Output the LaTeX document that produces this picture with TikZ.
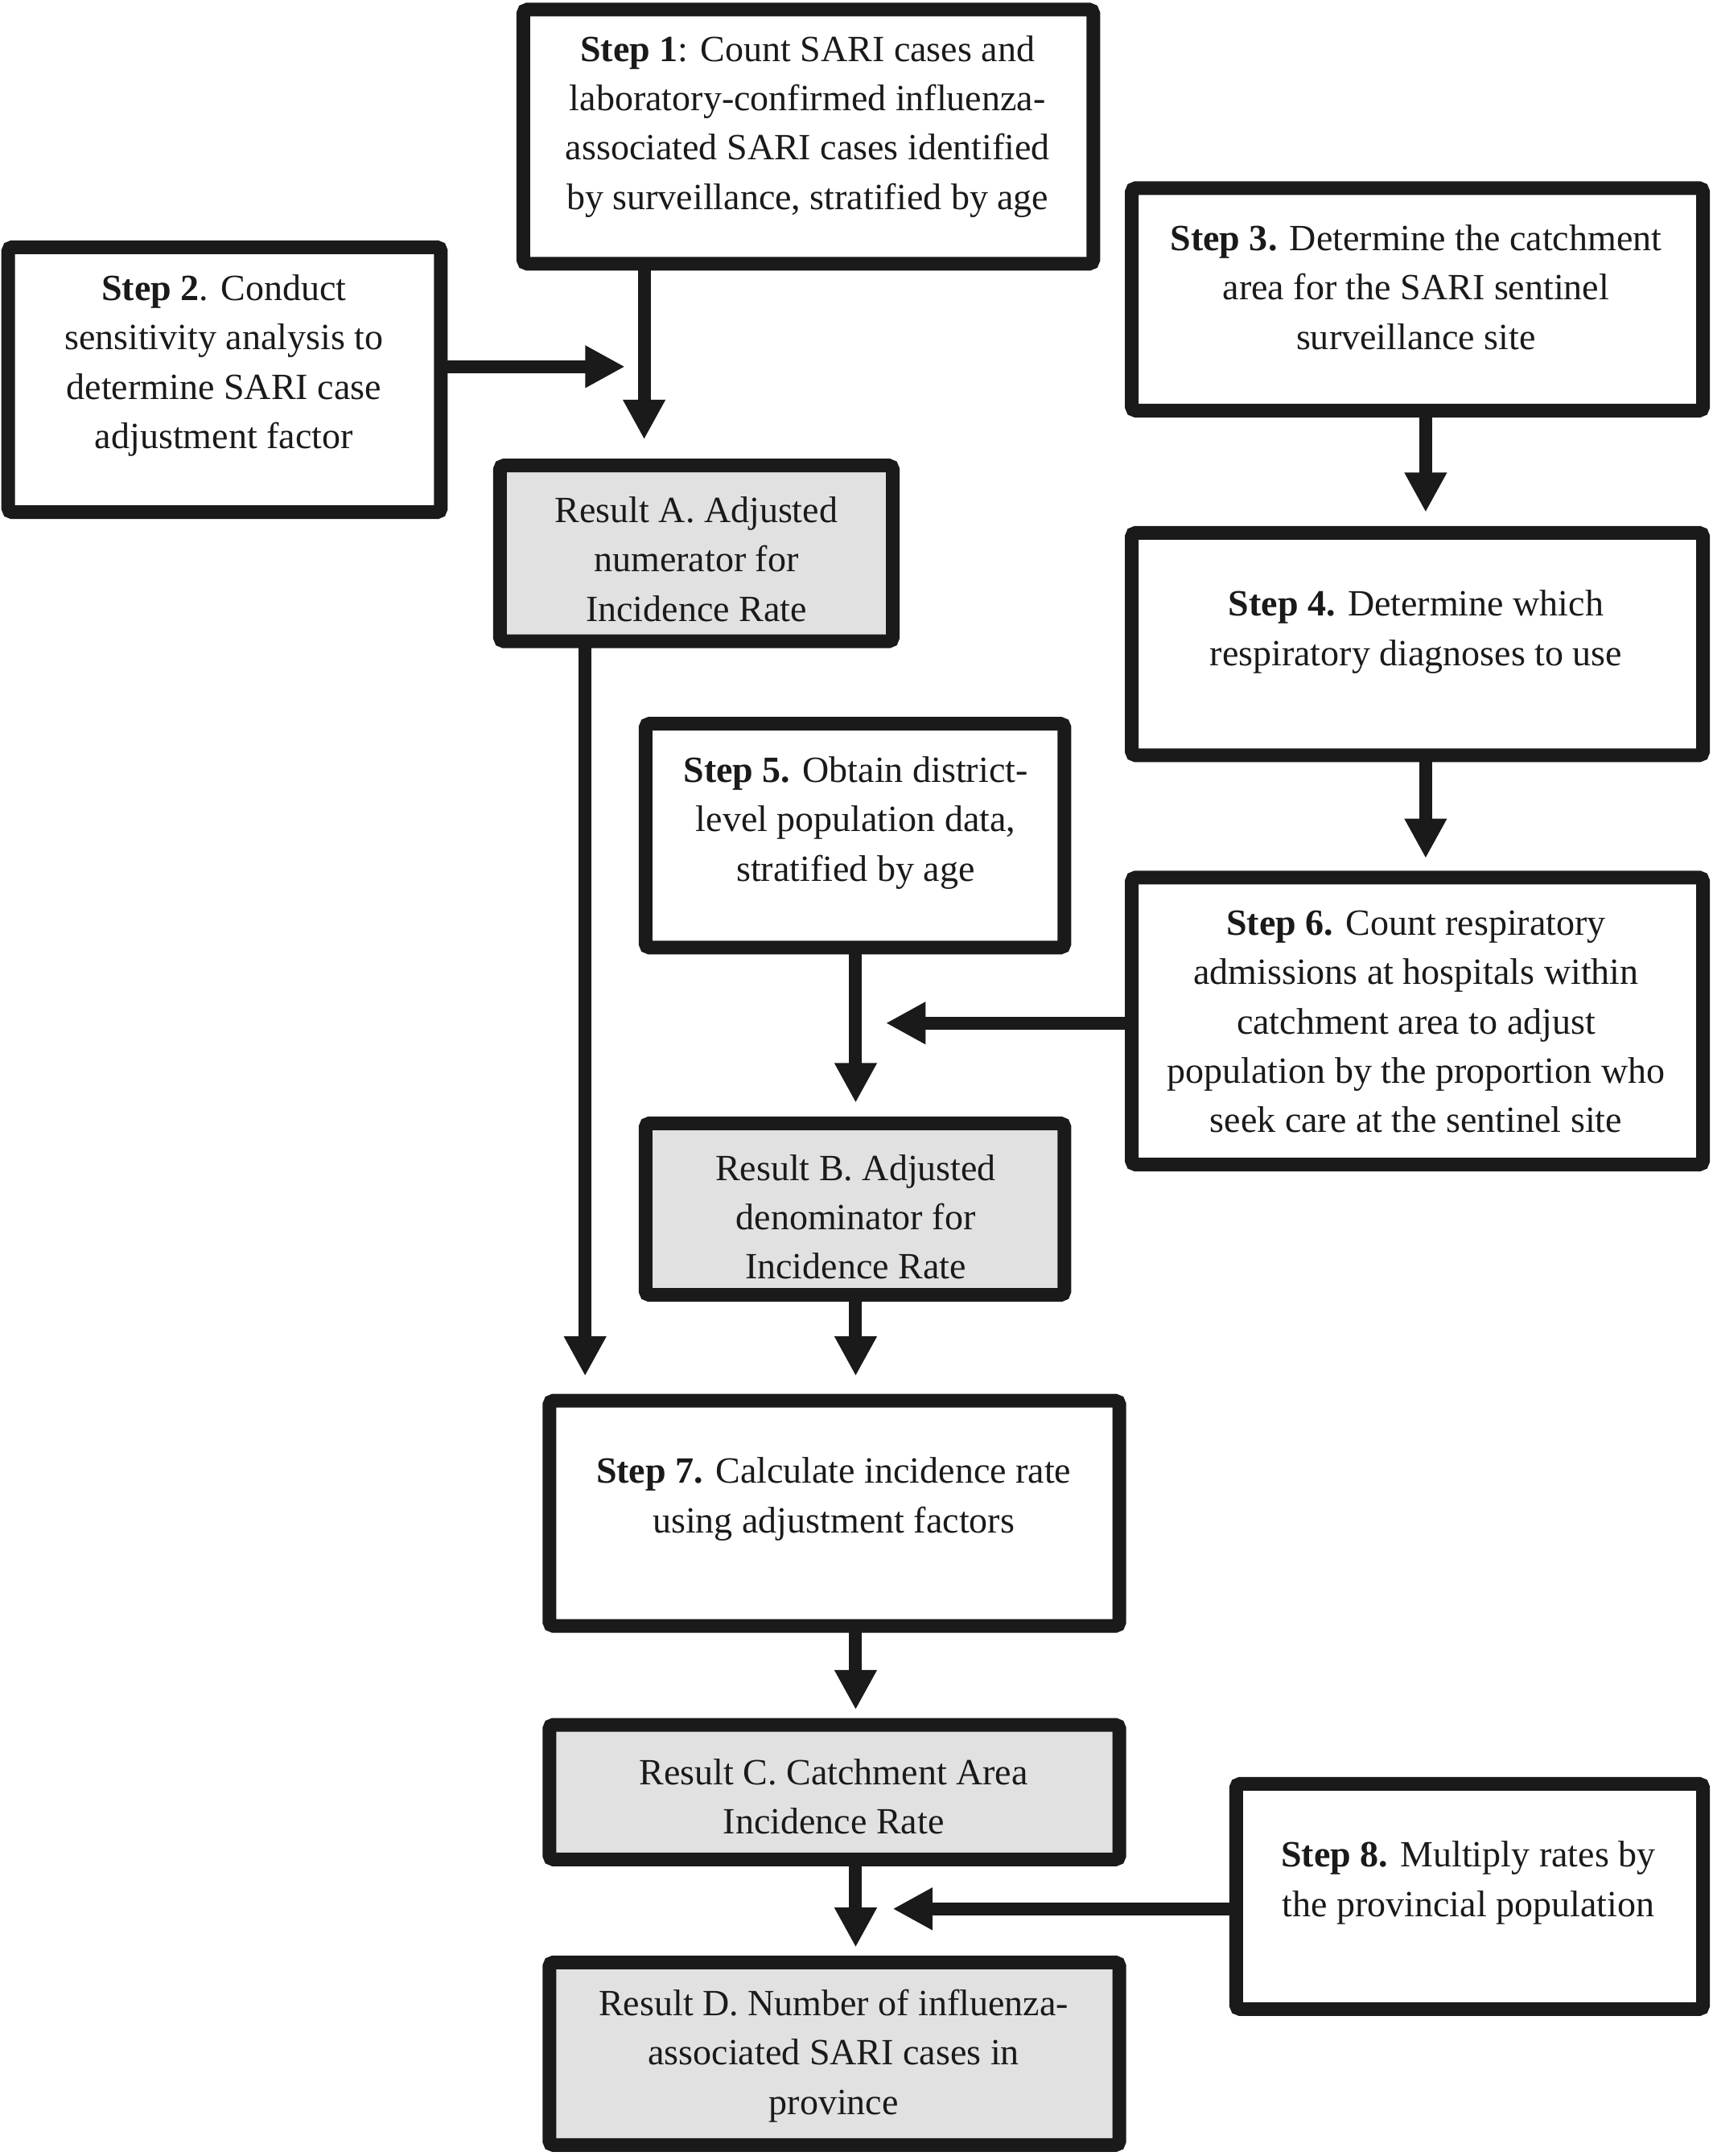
\documentclass[tikz,border=0pt]{standalone}
\usepackage{fontspec}
\setmainfont{Liberation Serif}
\usetikzlibrary{arrows.meta}
\definecolor{ink}{RGB}{26,26,26}
\definecolor{resfill}{RGB}{225,225,225}
\tikzset{
  boxst/.style={draw=ink, line width=5.1pt, rounded corners=1.5pt, inner sep=0pt, outer sep=0pt},
  txt/.style={align=center, inner sep=0pt, text=ink, font=\fontsize{13.8}{18.4}\selectfont, yshift=-1.6pt},
  arr/.style={draw=ink, line width=4.8pt, -{Triangle[length=14.8pt,width=14.8pt]}}
}
\newcommand\mybox[6]{%
  \node[boxst, fill=#6, minimum width={(#3-#2)*0.512pt}, minimum height={(#5-#4)*0.512pt}] (#1) at ({(#2+#3)/2},{(#4+#5)/2}) {};}
\begin{document}
\begin{tikzpicture}[x=0.512pt,y=-0.512pt]
\useasboundingbox[fill=white] (0,0) rectangle (1247,1570);
% boxes
\mybox{s1}{381}{796}{7}{192}{white}
\mybox{s2}{6}{321}{180}{373}{white}
\mybox{s3}{824}{1240}{137}{299}{white}
\mybox{ra}{364}{650}{339}{467}{resfill}
\mybox{s4}{824}{1240}{388}{550}{white}
\mybox{s5}{470}{775}{527}{690}{white}
\mybox{s6}{824}{1240}{639}{848}{white}
\mybox{rb}{470}{775}{818}{943}{resfill}
\mybox{s7}{400}{815}{1020}{1184}{white}
\mybox{rc}{400}{815}{1256}{1354}{resfill}
\mybox{s8}{900}{1240}{1299}{1463}{white}
\mybox{rd}{400}{815}{1429}{1562}{resfill}
% texts
\node[txt] (t1) at (588,89) {\textbf{Step 1}: Count SARI cases and\\laboratory-confirmed influenza-\\associated SARI cases identified\\by surveillance, stratified by age};
\node[txt] (t2) at (163,263) {\textbf{Step 2}. Conduct\\sensitivity analysis to\\determine SARI case\\adjustment factor};
\node[txt] (t3) at (1031,206) {\textbf{Step 3.} Determine the catchment\\area for the SARI sentinel\\surveillance site};
\node[txt] (ta) at (507,404) {Result A. Adjusted\\numerator for\\Incidence Rate};
\node[txt] (t4) at (1031,457) {\textbf{Step 4.} Determine which\\respiratory diagnoses to use};
\node[txt] (t5) at (623,596) {\textbf{Step 5.} Obtain district-\\level population data,\\stratified by age};
\node[txt] (t6) at (1031,741) {\textbf{Step 6.} Count respiratory\\admissions at hospitals within\\catchment area to adjust\\population by the proportion who\\seek care at the sentinel site};
\node[txt] (tb) at (623,883) {Result B. Adjusted\\denominator for\\Incidence Rate};
\node[txt] (t7) at (607,1088.5) {\textbf{Step 7.} Calculate incidence rate\\using adjustment factors};
\node[txt] (tc) at (607,1305) {Result C. Catchment Area\\Incidence Rate};
\node[txt] (t8) at (1069,1368) {\textbf{Step 8.} Multiply rates by\\the provincial population};
\node[txt] (td) at (607,1494) {Result D. Number of influenza-\\associated SARI cases in\\province};
% arrow end coordinates
\coordinate (e1) at (469,320);
\coordinate (e2) at (455,267);
\coordinate (e3) at (1038,373);
\coordinate (e4) at (1038,625);
\coordinate (e5) at (426,1002);
\coordinate (e6) at (623,803);
\coordinate (e7) at (645,745);
\coordinate (e8) at (623,1002);
\coordinate (e9) at (623,1245);
\coordinate (e10) at (623,1418);
\coordinate (e11) at (650,1390);
% connectors
\draw[arr] (s1.south -| e1) -- (e1);
\draw[arr] (s2.east |- e2) -- (e2);
\draw[arr] (s3.south -| e3) -- (e3);
\draw[arr] (s4.south -| e4) -- (e4);
\draw[arr] (ra.south -| e5) -- (e5);
\draw[arr] (s5.south -| e6) -- (e6);
\draw[arr] (s6.west |- e7) -- (e7);
\draw[arr] (rb.south -| e8) -- (e8);
\draw[arr] (s7.south -| e9) -- (e9);
\draw[arr] (rc.south -| e10) -- (e10);
\draw[arr] (s8.west |- e11) -- (e11);
\end{tikzpicture}
\end{document}
